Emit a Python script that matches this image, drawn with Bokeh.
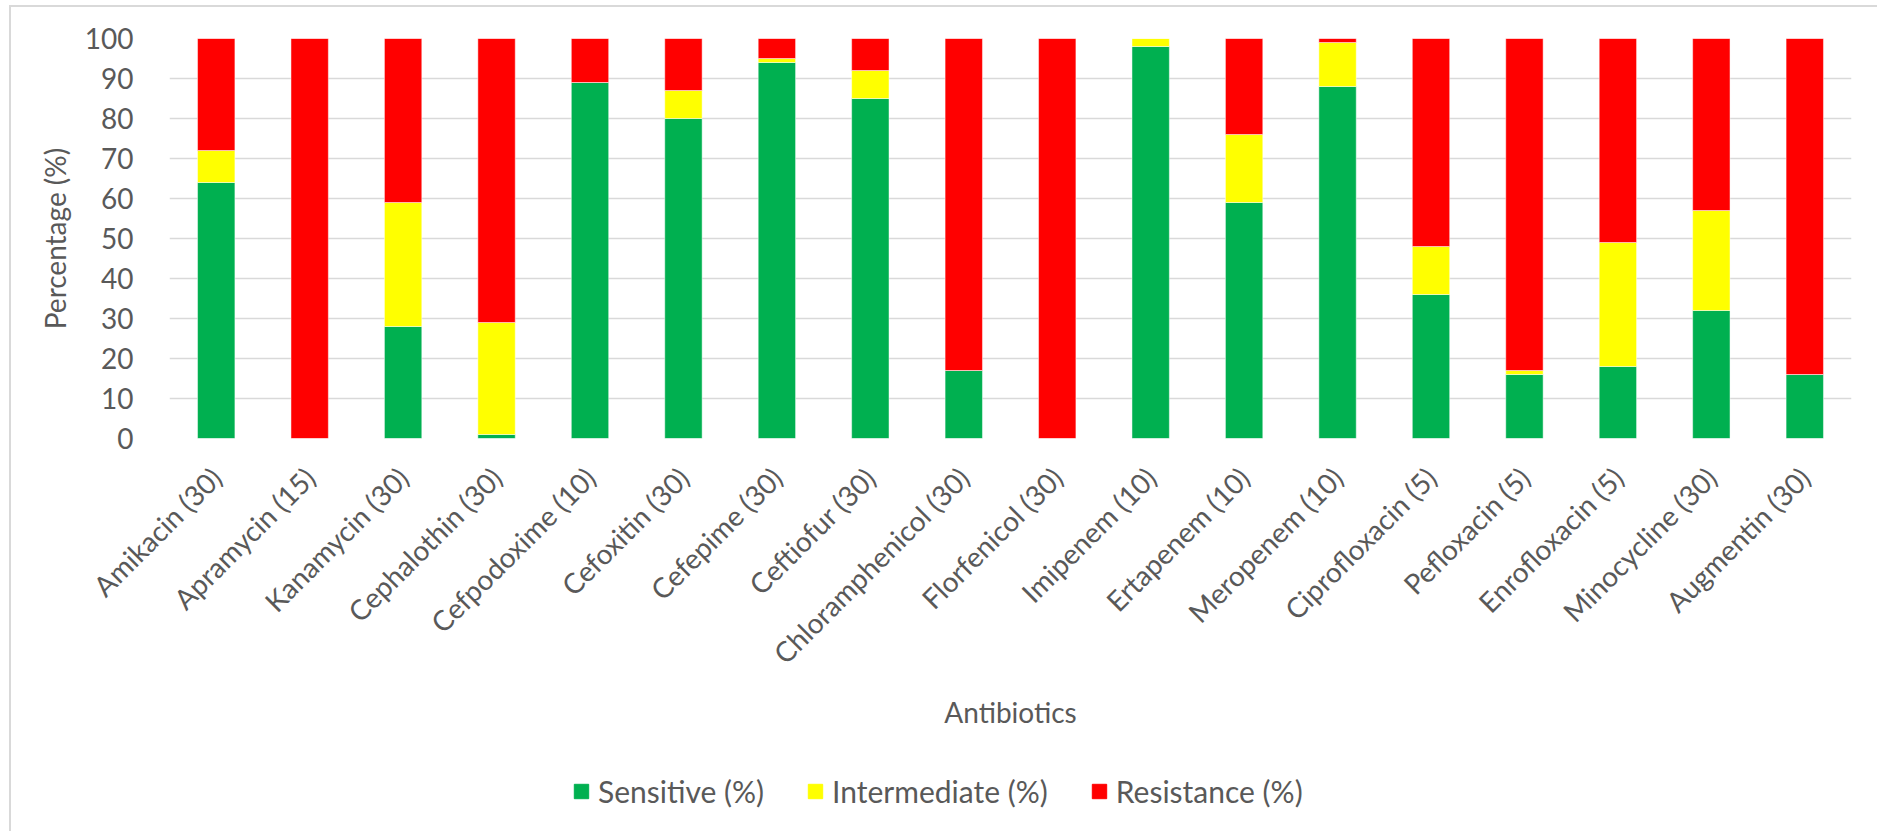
import math
from bokeh.plotting import figure
from bokeh.layouts import column
from bokeh.models import (ColumnDataSource, FactorRange, Range1d, Legend, LegendItem,
                          FixedTicker)
from bokeh.embed import file_html
from bokeh.resources import INLINE

antibiotics = ["Amikacin (30)", "Apramycin (15)", "Kanamycin (30)", "Cephalothin (30)",
               "Cefpodoxime (10)", "Cefoxitin (30)", "Cefepime (30)", "Ceftiofur (30)",
               "Chloramphenicol (30)", "Florfenicol (30)", "Imipenem (10)", "Ertapenem (10)",
               "Meropenem (10)", "Ciprofloxacin (5)", "Pefloxacin (5)", "Enrofloxacin (5)",
               "Minocycline (30)", "Augmentin (30)"]
sensitive = [64, 0, 28, 1, 89, 80, 94, 85, 17, 0, 98, 59, 88, 36, 16, 18, 32, 16]
intermediate = [8, 0, 31, 28, 0, 7, 1, 7, 0, 0, 2, 17, 11, 12, 1, 31, 25, 0]
resistance = [28, 100, 41, 71, 11, 13, 5, 8, 83, 100, 0, 24, 1, 52, 83, 51, 43, 84]
series_names = ["Sensitive (%)", "Intermediate (%)", "Resistance (%)"]
series_colors = ["#00B050", "#FFFF00", "#FF0000"]
y_ticks = [0, 10, 20, 30, 40, 50, 60, 70, 80, 90, 100]

FONT = "Lato"
TXT = "#595959"
BORDER = "2px solid #D9D9D9"

source = ColumnDataSource(dict(antibiotic=antibiotics, s=sensitive, i=intermediate, r=resistance))

p = figure(x_range=FactorRange(*antibiotics), y_range=Range1d(0, 100),
           frame_width=1680, frame_height=398, output_backend="svg", toolbar_location=None,
           min_border_left=158, min_border_right=28, min_border_top=31, min_border_bottom=300)
p.margin = (5, 0, 0, 9)
p.styles = {"border-left": BORDER, "border-top": BORDER}

rs = p.vbar_stack(["s", "i", "r"], x="antibiotic", width=0.4, color=series_colors,
                  source=source, line_color="white", line_width=0.8, line_alpha=0.6)

p.outline_line_color = None
p.xgrid.grid_line_color = None
p.ygrid.grid_line_color = "#D9D9D9"
p.ygrid.grid_line_width = 1.5
p.yaxis.ticker = FixedTicker(ticks=y_ticks)

for ax in (p.xaxis[0], p.yaxis[0]):
    ax.axis_line_color = None
    ax.major_tick_line_color = None
    ax.minor_tick_line_color = None
    ax.major_label_text_font = FONT
    ax.major_label_text_font_size = "28px"
    ax.major_label_text_color = TXT
    ax.axis_label_text_font = FONT
    ax.axis_label_text_font_size = "28px"
    ax.axis_label_text_color = TXT
    ax.axis_label_text_font_style = "normal"

p.yaxis.axis_label = "Percentage (%)"
p.yaxis.major_label_standoff = 30
p.yaxis.axis_label_standoff = 10
p.xaxis.axis_label = "Antibiotics"
p.xaxis.major_label_orientation = math.pi / 4
p.xaxis.major_label_standoff = 28
p.xaxis.axis_label_standoff = 10
p.x_range.range_padding = 0

# legend strip below the chart (its series renderers sit outside the visible y range)
pl = figure(x_range=FactorRange(*antibiotics), y_range=Range1d(500, 600),
            width=1866, height=95, output_backend="svg", toolbar_location=None,
            x_axis_location=None, y_axis_location=None,
            min_border_left=0, min_border_right=0, min_border_top=0, min_border_bottom=0)
pl.margin = (0, 0, 0, 9)
pl.styles = {"border-left": BORDER}
pl.outline_line_color = None
pl.xgrid.grid_line_color = None
pl.ygrid.grid_line_color = None
leg_rs = pl.vbar_stack(["s", "i", "r"], x="antibiotic", width=0.4, color=series_colors,
                       source=source)

legend = Legend(items=[LegendItem(label=n, renderers=[r]) for n, r in zip(series_names, leg_rs)],
                orientation="horizontal", location=(403, 22))
legend.label_text_font = FONT
legend.label_text_font_size = "30px"
legend.label_text_color = TXT
legend.glyph_width = 18
legend.glyph_height = 18
legend.label_standoff = 8
legend.spacing = 42
legend.padding = 10
legend.margin = 0
legend.border_line_color = None
legend.background_fill_alpha = 0
pl.add_layout(legend, "center")

layout = column(p, pl, spacing=0)
open("out.html", "w").write(file_html(layout, INLINE))
